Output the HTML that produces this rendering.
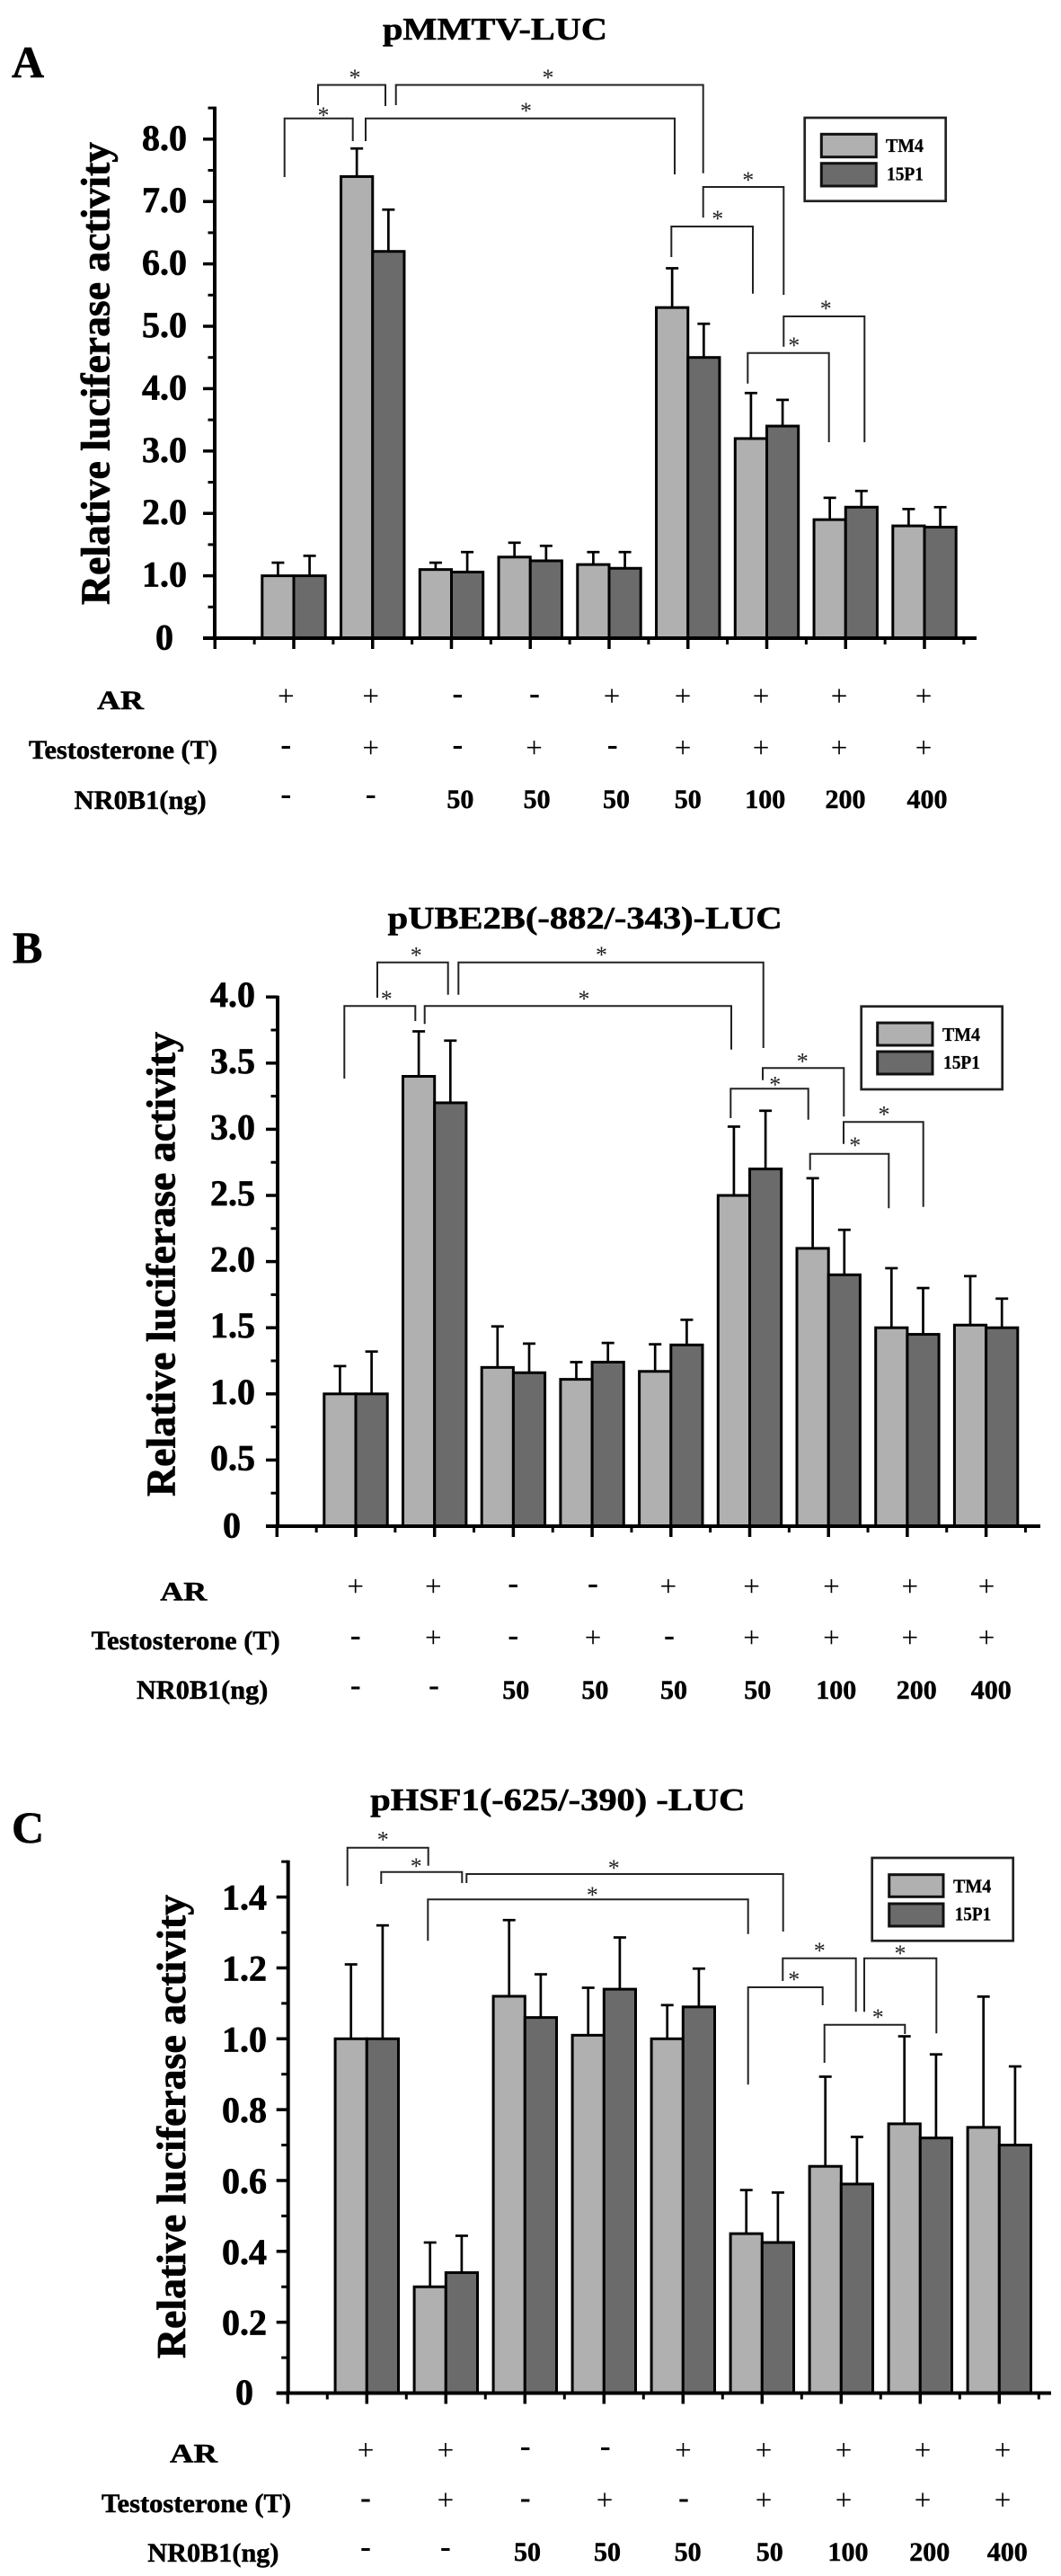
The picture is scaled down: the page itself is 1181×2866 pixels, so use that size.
<!DOCTYPE html>
<html lang="en">
<head>
<meta charset="utf-8">
<title>Relative luciferase activity panels</title>
<style>
html,body{margin:0;padding:0;background:#fff}
svg{display:block}
text{font-family:"Liberation Serif",serif;fill:#000}
.b{font-weight:bold}
.panel-letter{font-size:50px;font-weight:bold;stroke:#000;stroke-width:.6}
.title{font-size:35px;font-weight:bold;stroke:#000;stroke-width:.6}
.ytitle{font-size:46px;font-weight:bold;stroke:#000;stroke-width:.7}
.rowlabel{font-size:30px;font-weight:bold;stroke:#000;stroke-width:.5}
.plus{font-size:33px;text-anchor:middle}
.minus{font-size:36px;font-weight:bold;text-anchor:middle}
.dose{font-size:30px;font-weight:bold;text-anchor:middle;stroke:#000;stroke-width:.5}
.star{font-size:26px;text-anchor:middle;fill:#222}
.bracket{fill:none;stroke:#222;stroke-width:2}
.legend-box{fill:#fff;stroke:#222;stroke-width:2.7}
.sw1{fill:#b0b0b0;stroke:#111;stroke-width:3}
.sw2{fill:#6b6b6b;stroke:#111;stroke-width:3}
.legend-text{font-size:21px;font-weight:bold;stroke:#000;stroke-width:.3}
.tick-label{font-size:40px;font-weight:bold;text-anchor:end;stroke:#000;stroke-width:.7}
</style>
</head>
<body>
<svg id="fig" xmlns="http://www.w3.org/2000/svg" width="1181" height="2866" viewBox="0 0 1181 2866">
<rect width="1181" height="2866" fill="#fff"/>

<!-- PANEL A static annotation -->
<g>
<text class="panel-letter" x="13" y="86">A</text>
<text class="title" x="426" y="44" textLength="250" lengthAdjust="spacingAndGlyphs">pMMTV-LUC</text>
<text class="ytitle" transform="translate(121.7,673) rotate(-90)" textLength="515" lengthAdjust="spacingAndGlyphs">Relative luciferase activity</text>
<g>
<path class="bracket" d="M354 117V94.5H429V118"/>
<path class="bracket" d="M316.7 197V131.7H392.7V157"/>
<path class="bracket" d="M407 157V131.7H751V194"/>
<path class="bracket" d="M440.7 117V94.5H782.7V192.7"/>
<path class="bracket" d="M782.7 242V208H872.3V328"/>
<path class="bracket" d="M747.3 286V252H838V326.7"/>
<path class="bracket" d="M872.3 385.7V352H962.3V492"/>
<path class="bracket" d="M832.3 426.7V392.7H922.7V492"/>
<text class="star" x="395" y="95">*</text>
<text class="star" x="360" y="137">*</text>
<text class="star" x="585.5" y="132">*</text>
<text class="star" x="610" y="95">*</text>
<text class="star" x="832.7" y="209">*</text>
<text class="star" x="798.7" y="252">*</text>
<text class="star" x="919.3" y="352">*</text>
<text class="star" x="883.7" y="393">*</text>
</g>
<g>
<rect class="legend-box" x="895.7" y="131" width="157" height="92.7"/>
<rect class="sw1" x="914.3" y="149.3" width="61" height="25.4"/>
<rect class="sw2" x="914.3" y="181.7" width="61" height="25.3"/>
<text class="legend-text" x="986" y="169" textLength="42" lengthAdjust="spacingAndGlyphs">TM4</text>
<text class="legend-text" x="987" y="200.7" textLength="41" lengthAdjust="spacingAndGlyphs">15P1</text>
</g>
<g>
<text class="rowlabel" x="108" y="789" textLength="52" lengthAdjust="spacingAndGlyphs">AR</text>
<text class="rowlabel" x="32" y="844" textLength="210" lengthAdjust="spacingAndGlyphs">Testosterone (T)</text>
<text class="rowlabel" x="82.7" y="900" textLength="147" lengthAdjust="spacingAndGlyphs">NR0B1(ng)</text>
<g>
<text class="plus" x="318.3" y="785">+</text><text class="plus" x="412.7" y="785">+</text><text class="minus" x="509.4" y="783.2">-</text><text class="minus" x="595" y="783.2">-</text><text class="plus" x="681" y="785">+</text><text class="plus" x="760" y="785">+</text><text class="plus" x="847" y="785">+</text><text class="plus" x="934" y="785">+</text><text class="plus" x="1028" y="785">+</text>
</g>
<g>
<text class="minus" x="318.3" y="840.2">-</text><text class="plus" x="412.7" y="842.3">+</text><text class="minus" x="509.4" y="840.2">-</text><text class="plus" x="594.6" y="842.3">+</text><text class="minus" x="681.7" y="840.2">-</text><text class="plus" x="760" y="842.3">+</text><text class="plus" x="847" y="842.3">+</text><text class="plus" x="934" y="842.3">+</text><text class="plus" x="1028" y="842.3">+</text>
</g>
<g>
<text class="minus" x="318.3" y="895.2">-</text><text class="minus" x="412.7" y="895.2">-</text><text class="dose" x="512.4" y="899">50</text><text class="dose" x="597.6" y="899">50</text><text class="dose" x="686" y="899">50</text><text class="dose" x="765.7" y="899">50</text><text class="dose" x="851.7" y="899">100</text><text class="dose" x="941" y="899">200</text><text class="dose" x="1032" y="899">400</text>
</g>
</g>
</g>

<!-- PANEL B static annotation -->
<g>
<text class="panel-letter" x="14" y="1071">B</text>
<text class="title" x="431.7" y="1033" textLength="439" lengthAdjust="spacingAndGlyphs">pUBE2B(-882/-343)-LUC</text>
<text class="ytitle" transform="translate(194.5,1665) rotate(-90)" textLength="517" lengthAdjust="spacingAndGlyphs">Relative luciferase activity</text>
<g>
<path class="bracket" d="M420 1110V1070.7H498.7V1106.7"/>
<path class="bracket" d="M383.3 1200V1119.3H462.3V1136"/>
<path class="bracket" d="M472.7 1139.3V1119.3H814V1167.7"/>
<path class="bracket" d="M510.3 1106.7V1070.7H849.7V1166"/>
<path class="bracket" d="M849 1201.7V1188.3H939.3V1242.3"/>
<path class="bracket" d="M813.3 1244V1211.3H899.7V1245.7"/>
<path class="bracket" d="M939 1272.7V1248.3H1027.7V1342.7"/>
<path class="bracket" d="M901.7 1301.7V1283.7H989.3V1344.3"/>
<text class="star" x="463.3" y="1071.5">*</text>
<text class="star" x="430.3" y="1120">*</text>
<text class="star" x="650" y="1120">*</text>
<text class="star" x="669.5" y="1071">*</text>
<text class="star" x="893.3" y="1189.3">*</text>
<text class="star" x="862.7" y="1215.7">*</text>
<text class="star" x="984" y="1248.7">*</text>
<text class="star" x="951.7" y="1283">*</text>
</g>
<g>
<rect class="legend-box" x="958.7" y="1119.7" width="157" height="92.3"/>
<rect class="sw1" x="976.7" y="1138" width="61.3" height="25"/>
<rect class="sw2" x="976.7" y="1170" width="61.3" height="25"/>
<text class="legend-text" x="1049" y="1158" textLength="42" lengthAdjust="spacingAndGlyphs">TM4</text>
<text class="legend-text" x="1050" y="1189" textLength="41" lengthAdjust="spacingAndGlyphs">15P1</text>
</g>
<g>
<text class="rowlabel" x="178.3" y="1780.7" textLength="52" lengthAdjust="spacingAndGlyphs">AR</text>
<text class="rowlabel" x="101.7" y="1835" textLength="210" lengthAdjust="spacingAndGlyphs">Testosterone (T)</text>
<text class="rowlabel" x="152" y="1890" textLength="146.3" lengthAdjust="spacingAndGlyphs">NR0B1(ng)</text>
<g>
<text class="plus" x="395.7" y="1775.6">+</text><text class="plus" x="482.3" y="1775.6">+</text><text class="minus" x="571.2" y="1772.9">-</text><text class="minus" x="660" y="1772.9">-</text><text class="plus" x="743.8" y="1775.6">+</text><text class="plus" x="836.5" y="1775.6">+</text><text class="plus" x="925.4" y="1775.6">+</text><text class="plus" x="1012.8" y="1775.6">+</text><text class="plus" x="1098" y="1775.6">+</text>
</g>
<g>
<text class="minus" x="395.7" y="1830.9">-</text><text class="plus" x="482.3" y="1832.6">+</text><text class="minus" x="571.2" y="1830.9">-</text><text class="plus" x="660" y="1832.6">+</text><text class="minus" x="745" y="1830.9">-</text><text class="plus" x="836.5" y="1832.6">+</text><text class="plus" x="925.4" y="1832.6">+</text><text class="plus" x="1012.8" y="1832.6">+</text><text class="plus" x="1098" y="1832.6">+</text>
</g>
<g>
<text class="minus" x="395.7" y="1886.5">-</text><text class="minus" x="483" y="1886.5">-</text><text class="dose" x="574.2" y="1890">50</text><text class="dose" x="662.4" y="1890">50</text><text class="dose" x="750" y="1890">50</text><text class="dose" x="843.3" y="1890">50</text><text class="dose" x="930.7" y="1890">100</text><text class="dose" x="1020.3" y="1890">200</text><text class="dose" x="1103.2" y="1890">400</text>
</g>
</g>
</g>

<!-- PANEL C static annotation -->
<g>
<text class="panel-letter" x="13" y="2050">C</text>
<text class="title" x="412.3" y="2014" textLength="417" lengthAdjust="spacingAndGlyphs">pHSF1(-625/-390) -LUC</text>
<text class="ytitle" transform="translate(206,2624) rotate(-90)" textLength="516" lengthAdjust="spacingAndGlyphs">Relative luciferase activity</text>
<g>
<path class="bracket" d="M386.7 2098.3V2055.7H476.7V2075.7"/>
<path class="bracket" d="M424.3 2096V2082.7H514.3V2095"/>
<path class="bracket" d="M519.3 2095V2085H871.7V2149"/>
<path class="bracket" d="M476.3 2159.3V2113.3H832.7V2151.7"/>
<path class="bracket" d="M871.3 2204V2178.7H952.7V2238.3"/>
<path class="bracket" d="M832.7 2319.3V2211H915.7V2231"/>
<path class="bracket" d="M962 2238.3V2178.7H1042.3V2262.3"/>
<path class="bracket" d="M917.7 2295V2252.7H1007.3V2263"/>
<text class="star" x="426.3" y="2055.5">*</text>
<text class="star" x="463.3" y="2085">*</text>
<text class="star" x="683.3" y="2087">*</text>
<text class="star" x="659.4" y="2117">*</text>
<text class="star" x="912.3" y="2179">*</text>
<text class="star" x="883.7" y="2211">*</text>
<text class="star" x="1002" y="2182">*</text>
<text class="star" x="977.3" y="2253">*</text>
</g>
<g>
<rect class="legend-box" x="970.7" y="2067" width="157" height="92.3"/>
<rect class="sw1" x="989.7" y="2085.7" width="60.3" height="24.6"/>
<rect class="sw2" x="989.7" y="2118" width="60.3" height="25"/>
<text class="legend-text" x="1061" y="2105.7" textLength="42.3" lengthAdjust="spacingAndGlyphs">TM4</text>
<text class="legend-text" x="1062.7" y="2136.7" textLength="40.6" lengthAdjust="spacingAndGlyphs">15P1</text>
</g>
<g>
<text class="rowlabel" x="189" y="2739.7" textLength="53" lengthAdjust="spacingAndGlyphs">AR</text>
<text class="rowlabel" x="113" y="2795" textLength="211" lengthAdjust="spacingAndGlyphs">Testosterone (T)</text>
<text class="rowlabel" x="164.3" y="2850" textLength="146.2" lengthAdjust="spacingAndGlyphs">NR0B1(ng)</text>
<g>
<text class="plus" x="407" y="2736.5">+</text><text class="plus" x="495.9" y="2736.5">+</text><text class="minus" x="584.8" y="2733">-</text><text class="minus" x="673.7" y="2733">-</text><text class="plus" x="760.4" y="2736.5">+</text><text class="plus" x="850" y="2736.5">+</text><text class="plus" x="939" y="2736.5">+</text><text class="plus" x="1027" y="2736.5">+</text><text class="plus" x="1116" y="2736.5">+</text>
</g>
<g>
<text class="minus" x="407" y="2790.5">-</text><text class="plus" x="495.9" y="2792">+</text><text class="minus" x="584.8" y="2790.5">-</text><text class="plus" x="673" y="2792">+</text><text class="minus" x="761" y="2790.5">-</text><text class="plus" x="850" y="2792">+</text><text class="plus" x="939" y="2792">+</text><text class="plus" x="1027" y="2792">+</text><text class="plus" x="1116" y="2792">+</text>
</g>
<g>
<text class="minus" x="407" y="2845">-</text><text class="minus" x="495.9" y="2845">-</text><text class="dose" x="587" y="2849">50</text><text class="dose" x="676" y="2849">50</text><text class="dose" x="765.6" y="2849">50</text><text class="dose" x="856.8" y="2849">50</text><text class="dose" x="944" y="2849">100</text><text class="dose" x="1034.7" y="2849">200</text><text class="dose" x="1121.3" y="2849">400</text>
</g>
</g>
</g>
</svg>

<script>
const categories = ['ar', 'ar-t', 'nr0b1', 't-nr0b1', 'ar-nr0b1', 'ar-t-nr0b1-50', 'ar-t-nr0b1-100', 'ar-t-nr0b1-200', 'ar-t-nr0b1-400'];

const panelATm4 = [1.0, 7.4, 1.1, 1.3, 1.18, 5.3, 3.2, 1.9, 1.8];
const panelA15p1 = [1.0, 6.2, 1.06, 1.24, 1.12, 4.5, 3.4, 2.1, 1.78];
const panelATm4Err = [0.21, 0.45, 0.11, 0.23, 0.2, 0.63, 0.73, 0.35, 0.27];
const panelA15p1Err = [0.32, 0.67, 0.32, 0.24, 0.26, 0.54, 0.42, 0.26, 0.32];
const panelATicks = [1, 2, 3, 4, 5, 6, 7, 8];
const panelATickLabels = ['1.0', '2.0', '3.0', '4.0', '5.0', '6.0', '7.0', '8.0'];
const panelAMinorTicks = [0.5, 1.5, 2.5, 3.5, 4.5, 5.5, 6.5, 7.5, 8.5];

const panelBTm4 = [1.0, 3.4, 1.2, 1.11, 1.17, 2.5, 2.1, 1.5, 1.52];
const panelB15p1 = [1.0, 3.2, 1.16, 1.24, 1.37, 2.7, 1.9, 1.45, 1.5];
const panelBTm4Err = [0.21, 0.34, 0.31, 0.13, 0.205, 0.52, 0.53, 0.45, 0.37];
const panelB15p1Err = [0.32, 0.47, 0.22, 0.145, 0.19, 0.44, 0.34, 0.35, 0.22];
const panelBTicks = [0.5, 1, 1.5, 2, 2.5, 3, 3.5, 4];
const panelBTickLabels = ['0.5', '1.0', '1.5', '2.0', '2.5', '3.0', '3.5', '4.0'];
const panelBMinorTicks = [0.25, 0.75, 1.25, 1.75, 2.25, 2.75, 3.25, 3.75];

const panelCTm4 = [1.0, 0.3, 1.12, 1.01, 1.0, 0.45, 0.64, 0.76, 0.75];
const panelC15p1 = [1.0, 0.34, 1.06, 1.14, 1.09, 0.425, 0.59, 0.72, 0.7];
const panelCTm4Err = [0.21, 0.125, 0.215, 0.134, 0.095, 0.123, 0.253, 0.247, 0.369];
const panelC15p1Err = [0.32, 0.104, 0.122, 0.146, 0.108, 0.141, 0.133, 0.236, 0.222];
const panelCTicks = [0.2, 0.4, 0.6, 0.8, 1.0, 1.2, 1.4];
const panelCTickLabels = ['0.2', '0.4', '0.6', '0.8', '1.0', '1.2', '1.4'];
const panelCMinorTicks = [0.1, 0.3, 0.5, 0.7, 0.9, 1.1, 1.3, 1.5];

const SVG_NS = 'http://www.w3.org/2000/svg';
const fig = document.getElementById('fig');

function make(tag, attrs, parent) {
  const node = document.createElementNS(SVG_NS, tag);
  for (const key in attrs) node.setAttribute(key, attrs[key]);
  parent.appendChild(node);
  return node;
}

function drawPanel(p) {
  const xScale = i => p.x0 + p.step * i;
  const yScale = v => p.y0 - p.unit * v;
  const barW = 35.2;

  const root = make('g', {}, fig);
  
  

  const drawSeries = (values, errs, seriesName, fill, side) => {
    values.forEach((v, i) => {
      const barX = side < 0 ? xScale(i) - barW : xScale(i);
      const cx = barX + barW / 2;
      const errTop = yScale(v + errs[i]);

      const stem = make('line', {x1: cx, x2: cx, y1: yScale(v), y2: errTop, stroke: '#000', 'stroke-width': 2.7}, root);
      
      

      const cap = make('line', {x1: cx - 7, x2: cx + 7, y1: errTop, y2: errTop, stroke: '#000', 'stroke-width': 2.7}, root);
      
      

      const bar = make('rect', {x: barX, y: yScale(v), width: barW, height: p.y0 - yScale(v), fill: fill, stroke: '#000', 'stroke-width': 3}, root);
      
      
    });
  };
  drawSeries(p.tm4, p.tm4Err, 'tm4', '#b0b0b0', -1);
  drawSeries(p.p15, p.p15Err, '15p1', '#6b6b6b', 1);

  const yAxis = make('line', {x1: p.axisX, x2: p.axisX, y1: yScale(p.yTop) - 1.5, y2: p.y0, stroke: '#000', 'stroke-width': 4}, root);
  
  

  const xAxis = make('line', {x1: p.axisX - 13, x2: p.xEnd, y1: p.y0, y2: p.y0, stroke: '#000', 'stroke-width': 4}, root);
  
  

  p.ticks.forEach((v, k) => {
    const tick = make('line', {x1: p.axisX - 13, x2: p.axisX, y1: yScale(v), y2: yScale(v), stroke: '#000', 'stroke-width': 3.5}, root);
    
    

    const label = make('text', {x: p.labelRight, y: yScale(v) + p.labelDy, class: 'tick-label'}, root);
    label.textContent = p.tickLabels[k];
    
    
  });

  const zeroTick = make('line', {x1: p.axisX - 13, x2: p.axisX, y1: p.y0, y2: p.y0, stroke: '#000', 'stroke-width': 3.5}, root);
  
  

  const zero = make('text', {x: p.zeroRight, y: p.y0 + 12.5, class: 'tick-label'}, root);
  zero.textContent = '0';
  
  

  p.minor.forEach(v => {
    const tick = make('line', {x1: p.axisX - 7.5, x2: p.axisX, y1: yScale(v), y2: yScale(v), stroke: '#000', 'stroke-width': 3}, root);
    
    
  });

  for (let i = -1; i < categories.length; i++) {
    const major = make('line', {x1: xScale(i), x2: xScale(i), y1: p.y0, y2: p.y0 + 12, stroke: '#000', 'stroke-width': 3.5}, root);
    
    

    const mx = xScale(i) + p.step / 2;
    const minor = make('line', {x1: mx, x2: mx, y1: p.y0, y2: p.y0 + 7, stroke: '#000', 'stroke-width': 3}, root);
    
    
  }
}

drawPanel({id: 'a', x0: 327, step: 87.75, y0: 710, unit: 69.4, yTop: 8.5, axisX: 239, xEnd: 1087, labelRight: 208, zeroRight: 193, labelDy: 12,
  tm4: panelATm4, p15: panelA15p1, tm4Err: panelATm4Err, p15Err: panelA15p1Err, ticks: panelATicks, tickLabels: panelATickLabels, minor: panelAMinorTicks});
drawPanel({id: 'b', x0: 396, step: 87.7, y0: 1698, unit: 147.2, yTop: 4, axisX: 309, xEnd: 1158, labelRight: 284, zeroRight: 268, labelDy: 11,
  tm4: panelBTm4, p15: panelB15p1, tm4Err: panelBTm4Err, p15Err: panelB15p1Err, ticks: panelBTicks, tickLabels: panelBTickLabels, minor: panelBMinorTicks});
drawPanel({id: 'c', x0: 408.3, step: 88, y0: 2662.5, unit: 394.2, yTop: 1.5, axisX: 320.7, xEnd: 1170, labelRight: 297, zeroRight: 282, labelDy: 14,
  tm4: panelCTm4, p15: panelC15p1, tm4Err: panelCTm4Err, p15Err: panelC15p1Err, ticks: panelCTicks, tickLabels: panelCTickLabels, minor: panelCMinorTicks});
</script>
</body>
</html>
